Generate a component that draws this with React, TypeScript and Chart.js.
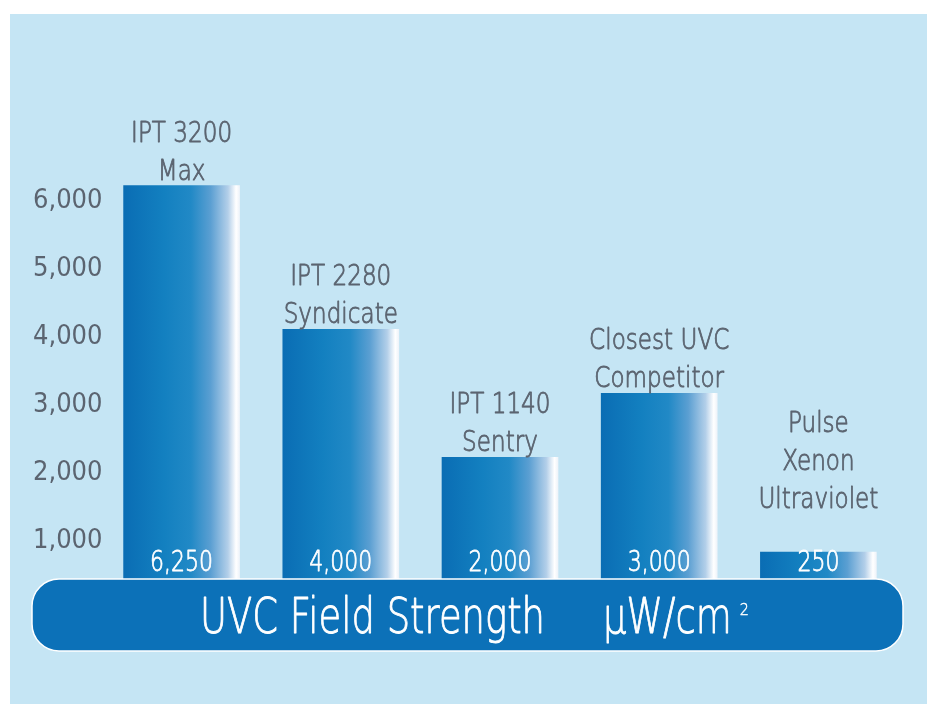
import React, { useEffect, useRef } from 'react';
import { Chart, registerables } from 'chart.js';

Chart.register(...registerables);

// ---- data ----
const CATEGORIES: string[][] = [
  ['IPT 3200', 'Max'],
  ['IPT 2280', 'Syndicate'],
  ['IPT 1140', 'Sentry'],
  ['Closest UVC', 'Competitor'],
  ['Pulse', 'Xenon', 'Ultraviolet', ''],
];
const VALUES: number[] = [6250, 4000, 2000, 3000, 250];
const TICKS: number[] = [1000, 2000, 3000, 4000, 5000, 6000];
const AXIS_TITLE = 'UVC Field Strength';
const UNIT = 'μW/cm';
const UNIT_SUP = '2';

const FONT = '"DejaVu Sans Condensed", "DejaVu Sans", sans-serif';
const LIGHT_FONT = '"DejaVu Sans", sans-serif';
const PANEL = '#c5e5f4';
const LABEL_COLOR = '#5b6470';
const BAND_COLOR = '#0c71b8';

const fmt = (v: number) => Number(v).toLocaleString('en-US');

function fontStr(size: number) {
  return `200 ${size}px ${LIGHT_FONT}`;
}

function measure(c: CanvasRenderingContext2D, text: string, size: number) {
  c.save();
  c.font = fontStr(size);
  const w = c.measureText(text).width;
  c.restore();
  return w;
}

function drawText(c: CanvasRenderingContext2D, text: string, x: number, y: number, size: number, sx: number, align: CanvasTextAlign, color: string, stroke: number) {
  c.save();
  c.font = fontStr(size);
  c.textAlign = align;
  c.textBaseline = 'alphabetic';
  c.fillStyle = color;
  c.strokeStyle = color;
  c.lineWidth = stroke;
  c.lineJoin = 'round';
  c.translate(x, y);
  c.scale(sx, 1);
  c.fillText(text, 0, 0);
  if (stroke > 0) c.strokeText(text, 0, 0);
  const w = c.measureText(text).width * sx;
  c.restore();
  return w;
}

function barGradient(c: CanvasRenderingContext2D, cx: number, half: number) {
  const g = c.createLinearGradient(cx - half, 0, cx + half, 0);
  g.addColorStop(0, '#0a6db4');
  g.addColorStop(0.35, '#1380c0');
  g.addColorStop(0.58, '#2189c6');
  g.addColorStop(0.75, '#5b9fd2');
  g.addColorStop(0.9, '#b3cfe9');
  g.addColorStop(0.97, '#ffffff');
  g.addColorStop(1, '#eef3f9');
  return g;
}

const decorPlugin = {
  id: 'decor',
  beforeDraw(chart: any) {
    const c = chart.ctx;
    c.save();
    c.fillStyle = '#ffffff';
    c.fillRect(0, 0, chart.width, chart.height);
    c.fillStyle = PANEL;
    c.fillRect(10, 14, 917, 690);
    c.restore();
  },
  afterDatasetsDraw(chart: any) {
    const c = chart.ctx;
    const meta = chart.getDatasetMeta(0);
    const catSX = 101 / measure(c, 'IPT 3200', 28);
    const valSX = 63 / measure(c, '6,250', 28);
    const bandSX = 345 / measure(c, AXIS_TITLE, 49);
    c.save();
    // category labels above bars
    meta.data.forEach((el: any, i: number) => {
      const lines = CATEGORIES[i];
      const n = lines.length;
      lines.forEach((ln, j) => {
        const y = el.y - 6 - (n - 1 - j) * 38;
        if (ln) drawText(c, ln, el.x, y, 28, catSX, 'center', LABEL_COLOR, 0.9);
      });
    });
    // value labels inside bars
    meta.data.forEach((el: any, i: number) => {
      drawText(c, fmt(VALUES[i]), el.x, 571, 28, valSX, 'center', '#ffffff', 0.8);
    });
    // bottom band
    const x0 = 32, y0 = 579, x1 = 903, y1 = 651, r = 27;
    c.beginPath();
    c.moveTo(x0 + r, y0);
    c.lineTo(x1 - r, y0);
    c.arcTo(x1, y0, x1, y0 + r, r);
    c.lineTo(x1, y1 - r);
    c.arcTo(x1, y1, x1 - r, y1, r);
    c.lineTo(x0 + r, y1);
    c.arcTo(x0, y1, x0, y1 - r, r);
    c.lineTo(x0, y0 + r);
    c.arcTo(x0, y0, x0 + r, y0, r);
    c.closePath();
    c.fillStyle = BAND_COLOR;
    c.fill();
    c.lineWidth = 1.5;
    c.strokeStyle = '#ffffff';
    c.stroke();
    // band text
    drawText(c, AXIS_TITLE, 200, 633, 49, bandSX, 'left', '#ffffff', 0.9);
    const w = drawText(c, UNIT, 603, 633, 49, bandSX, 'left', '#ffffff', 0.9);
    drawText(c, UNIT_SUP, 603 + w + 8, 615, 16, 0.9, 'left', '#ffffff', 0.5);
    c.restore();
  },
};

export default function App() {
  const ref = useRef<HTMLCanvasElement | null>(null);
  useEffect(() => {
    document.body.style.margin = '0';
    if (!ref.current) return;
    const chart = new Chart(ref.current, {
      type: 'bar',
      data: {
        labels: CATEGORIES.map((c) => c.filter(Boolean).join(' ')),
        datasets: [
          {
            data: VALUES,
            yAxisID: 'y',
            barThickness: 116,
            minBarLength: 33,
            borderWidth: 0,
            backgroundColor: (ctx: any) => {
              const ch = ctx.chart;
              const xs = ch.scales && ch.scales.x;
              if (!xs || ctx.dataIndex === undefined) return '#0d72b8';
              const cx = xs.getPixelForValue(ctx.dataIndex);
              if (!isFinite(cx)) return '#0d72b8';
              return barGradient(ch.ctx, cx, 58);
            },
          },
        ],
      },
      options: {
        animation: false,
        responsive: false,
        maintainAspectRatio: false,
        layout: { padding: { left: 33, right: 34, top: 100, bottom: 119 } },
        plugins: { legend: { display: false }, tooltip: { enabled: false } },
        scales: {
          x: { display: false },
          y: { display: false, min: 0, max: 7591 },
          yTicks: {
            position: 'left',
            min: 353,
            max: 7485,
            grid: { display: false, drawTicks: false },
            border: { display: false },
            ticks: {
              crossAlign: 'far',
              padding: 0,
              color: LABEL_COLOR,
              font: { family: FONT, size: 27 },
              callback: (v: any) => fmt(Number(v)),
            },
            afterBuildTicks: (axis: any) => {
              axis.ticks = TICKS.map((v) => ({ value: v }));
            },
            afterFit: (axis: any) => {
              axis.width = 69;
            },
          },
        },
      } as any,
      plugins: [decorPlugin],
    });
    return () => chart.destroy();
  }, []);
  return (
    <div style={{ width: 932, height: 704 }}>
      <canvas ref={ref} width={932} height={704} />
    </div>
  );
}
